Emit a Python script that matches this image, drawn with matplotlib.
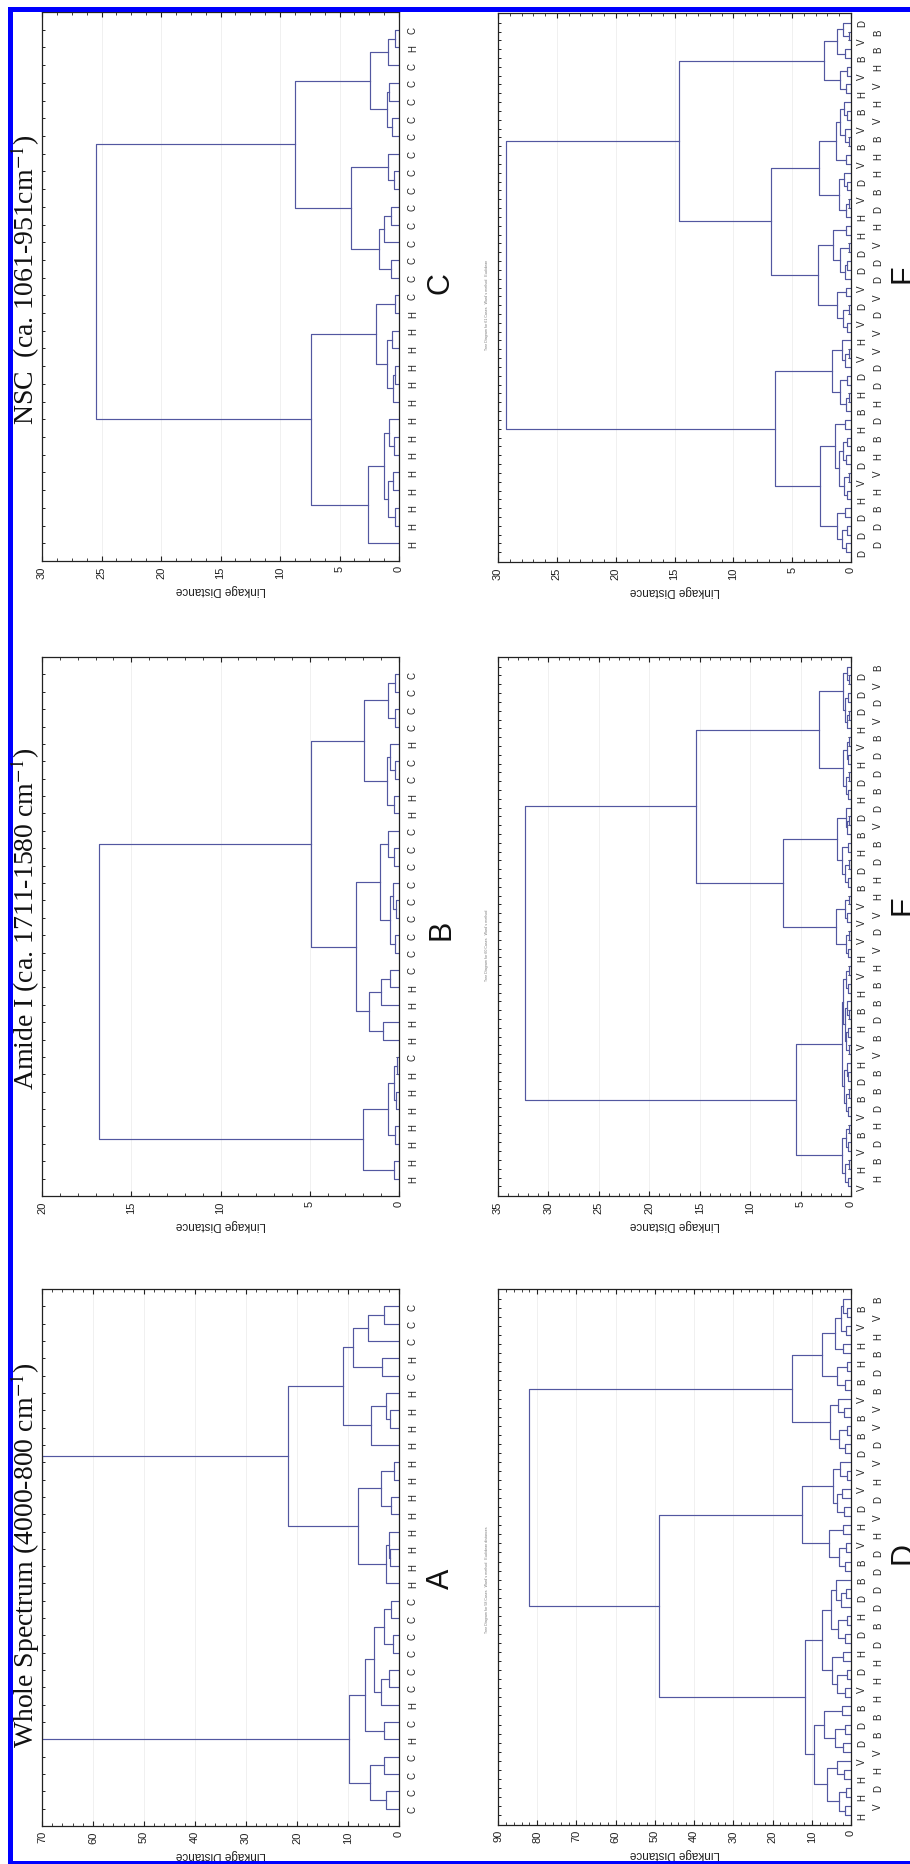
import numpy as np
import matplotlib
matplotlib.use("Agg")
import matplotlib.pyplot as plt
from matplotlib.patches import Rectangle
from matplotlib.ticker import MultipleLocator, AutoMinorLocator

plt.rcParams["font.family"] = ["Liberation Sans", "DejaVu Sans"]
plt.rcParams["mathtext.fontset"] = "stix"

W, H, DPI = 910, 1865, 100
LINE = "#5257a0"
INK = "#222222"

################################
# data
# leaves are listed left to right as in the original plot
# (bottom to top in this turned page); JOINS_x[i] is the linkage
# distance at which leaf i and leaf i+1 end up in the same cluster
################################

LABELS_A = "CCCCHCHCCCCCCHHHHHHHHHHHHCHCCC"
JOINS_A = [2.5, 5.7, 3.0, 9.8, 3.0, 6.7, 3.5, 2.0, 5.0, 1.2, 3.0, 1.5, 70.0,
           2.5, 1.8, 2.0, 8.0, 1.5, 3.5, 1.0, 21.7, 5.4, 1.8, 2.5, 10.9,
           3.3, 9.0, 6.0, 3.0]

LABELS_B = "HHHHHHHCHHHHCCCCCCCCCHHCCHCCCC"
JOINS_B = [0.3, 2.0, 0.2, 0.6, 0.15, 0.3, 0.1, 16.8, 0.9, 1.7, 1.0, 0.5, 2.4,
           0.25, 0.5, 0.15, 0.35, 1.05, 0.3, 0.6, 4.95, 0.3, 0.7, 0.2, 0.5,
           1.95, 0.25, 0.6, 0.2]

LABELS_C = "HHHHHHHHHHHHHHCCCCCCCCCCCCCCHC"
JOINS_C = [2.6, 0.3, 0.9, 0.5, 1.3, 0.4, 0.8, 7.4, 0.5, 0.3, 1.0, 0.6, 1.9,
           0.3, 25.5, 0.7, 1.7, 1.3, 0.7, 4.0, 0.4, 0.9, 8.7, 0.6, 1.0, 0.8,
           2.4, 0.9, 0.3]

# D, E, F: labels alternate between two rows
LABELS_D_ROW1 = "HHHVDDBVDHDHDBBVHDVVDBBVBHHVB"
LABELS_D_ROW2 = "VDHVBBHHHDBDDDDHVDHVDVVBDBHVB"
JOINS_D = [1.5, 3.0, 1.2, 6.1, 1.8, 3.5, 9.5, 2.0, 4.0, 1.5, 6.8, 2.2,
           11.7,
           1.5, 3.5, 1.0, 4.8, 2.0, 7.4, 1.5, 3.2, 1.0, 5.0, 2.5, 1.2, 3.8,
           49.0,
           1.5, 3.0, 1.2, 5.5, 2.0, 12.5, 1.8, 3.5, 2.2, 4.5, 1.0, 2.8,
           82.0,
           1.5, 3.0, 1.0, 5.3, 1.8, 3.2,
           15.1,
           1.5, 3.5, 1.0, 7.4, 2.0, 4.0, 1.2, 2.5, 1.0, 2.0]

LABELS_E_ROW1 = "VHVBVBDHVHBHVHVVVBDHBDHDHVHDDD"
LABELS_E_ROW2 = "HBDHDBBVBDBBHVDVHHDBVDBDDBVDVB"
JOINS_E = [0.3, 0.6, 0.2, 0.9, 0.3, 0.5, 0.2, 5.5,
           0.3, 0.5, 0.2, 0.7, 0.3, 0.4, 0.9, 0.2, 0.5, 0.3, 0.6, 0.2, 0.4,
           0.8, 0.3, 0.5, 0.2,
           32.3,
           0.3, 0.5, 0.2, 1.5, 0.4, 0.6, 0.2, 6.7,
           0.3, 0.6, 0.2, 0.9, 0.3, 1.4, 0.4, 0.2, 0.5,
           15.4,
           0.3, 0.5, 0.2, 0.8, 0.3, 0.4, 0.2, 3.2,
           0.4, 0.2, 0.6, 0.3, 0.8, 0.2, 0.4]

LABELS_F_ROW1 = "DDDHVDBHBHDVHVDVDDHHVDVBVBHVBVD"
LABELS_F_ROW2 = "DDBHVHBDHDDVVDVDDVHDBHHBVHVHBB"
JOINS_F = [0.4, 0.8, 0.3, 1.2, 0.5, 2.6,
           0.3, 0.6, 0.2, 1.0, 0.4, 0.7, 0.3, 1.4, 0.5,
           6.5,
           0.4, 0.2, 0.9, 0.3, 1.6, 0.5, 0.2, 0.8,
           29.3,
           0.3, 0.7, 0.2, 1.2, 0.4, 2.8, 0.5, 0.3, 0.9, 0.2, 1.5, 0.4,
           6.8,
           0.4, 0.2, 1.0, 0.3, 0.6, 2.75, 0.4, 1.3, 0.2, 0.5, 0.9, 0.3, 0.6,
           14.6,
           0.4, 0.9, 0.3, 2.3, 0.5, 1.2, 0.2, 0.7]

TITLES = ["Whole Spectrum (4000-800 cm$^{-1}$)",
          "Amide I (ca. 1711-1580 cm$^{-1}$)",
          "NSC  (ca. 1061-951cm$^{-1}$)"]


################################
# helpers
################################

def interleave(row1, row2):
    out = []
    for i in range(len(row1) + len(row2)):
        out.append(row1[i // 2] if i % 2 == 0 else row2[i // 2])
    return out


def tree(joins, lo, hi, segs):
    # split the leaf range at its highest join, like a dendrogram does
    if lo == hi:
        return lo + 1, 0.0
    k = lo + int(np.argmax(joins[lo:hi]))
    lp, lh = tree(joins, lo, k, segs)
    rp, rh = tree(joins, k + 1, hi, segs)
    h = joins[k]
    segs.append(([lh, h, h, rh], [lp, lp, rp, rp]))
    return (lp + rp) / 2.0, h


def draw_panel(fig, box, dmax, major, nminor, labels, joins, two_rows=False):
    x0, y0, x1, y1 = box
    ax = fig.add_axes([x0 / W, 1 - y1 / H, (x1 - x0) / W, (y1 - y0) / H])
    n = len(labels)
    segs = []
    tree(joins, 0, n - 1, segs)
    for xs, ys in segs:
        ax.plot(xs, ys, color=LINE, lw=0.85)
    ax.set_xlim(dmax, 0)
    m = 1.1 if two_rows else 1.0
    ax.set_ylim(1 - m, n + m)

    ax.xaxis.set_major_locator(MultipleLocator(major))
    ax.xaxis.set_minor_locator(AutoMinorLocator(nminor))
    ax.set_yticks(np.arange(1, n + 1))
    ax.set_yticklabels([])
    ax.tick_params(axis="x", which="both", direction="in", top=True, bottom=True,
                   labelrotation=90, labelsize=8, pad=3, colors=INK)
    ax.tick_params(axis="x", which="major", length=3.5, width=0.8)
    ax.tick_params(axis="x", which="minor", length=2, width=0.6)
    ax.tick_params(axis="y", direction="in", left=True, right=True,
                   length=2.5, width=0.7, colors=INK)
    ax.grid(axis="x", which="major", color="#eeeeee", lw=0.6)
    ax.set_axisbelow(True)
    for s in ax.spines.values():
        s.set_linewidth(0.9)
        s.set_color(INK)
    ax.set_xlabel("Linkage Distance", rotation=180, fontsize=8.5, labelpad=4, color=INK)

    for i, lab in enumerate(labels):
        if two_rows:
            dx = 8 if i % 2 == 0 else 19.5
        else:
            dx = 10
        ax.annotate(lab, xy=(1, i + 1), xycoords=("axes fraction", "data"),
                    xytext=(dx, 0), textcoords="offset points", rotation=90,
                    ha="center", va="center", fontsize=7, color=INK)
    return ax


################################
# figure
################################

fig = plt.figure(figsize=(W / DPI, H / DPI), dpi=DPI)

draw_panel(fig, (42, 1290, 399, 1827), 70, 10, 5, list(LABELS_A), JOINS_A)
draw_panel(fig, (42, 658, 399, 1197), 20, 5, 5, list(LABELS_B), JOINS_B)
draw_panel(fig, (42, 13, 399, 562), 30, 5, 4, list(LABELS_C), JOINS_C)
draw_panel(fig, (498, 1290, 851, 1826), 90, 10, 5,
           interleave(LABELS_D_ROW1, LABELS_D_ROW2), JOINS_D, two_rows=True)
draw_panel(fig, (498, 658, 851, 1197), 35, 5, 5,
           interleave(LABELS_E_ROW1, LABELS_E_ROW2), JOINS_E, two_rows=True)
draw_panel(fig, (498, 14, 851, 563), 30, 5, 5,
           interleave(LABELS_F_ROW1, LABELS_F_ROW2), JOINS_F, two_rows=True)

# panel titles, turned with the page
for title, yc in zip(TITLES, [1555, 919, 280]):
    fig.text(25 / W, 1 - yc / H, title, rotation=90, ha="center", va="center",
             fontsize=20, family="Liberation Serif", color="#111111")

# panel letters (D, E, F run off the right edge of the page)
for letter, yc in zip("ABC", [1579, 930, 283]):
    fig.text(441 / W, 1 - yc / H, letter, rotation=90, ha="center", va="center",
             fontsize=22, color="#111111")
for letter, yc in zip("DEF", [1553, 905, 274]):
    fig.text(903 / W, 1 - yc / H, letter, rotation=90, ha="center", va="center",
             fontsize=22, color="#111111")

# tiny header text of the right column plots
for txt, yc in zip(["Tree Diagram for 58 Cases   Ward`s method   Euclidean distances",
                    "Tree Diagram for 60 Cases   Ward`s method",
                    "Tree Diagram for 61 Cases   Ward`s method   Euclidean"],
                   [1580, 945, 305]):
    fig.text(487 / W, 1 - yc / H, txt, rotation=90, ha="center", va="center",
             fontsize=2.6, color="#777777")

# blue page border
blue = "#0000ff"
fig.add_artist(Rectangle((8 / W, 0), 5 / W, 1 - 8 / H, transform=fig.transFigure,
                         color=blue, lw=0))
fig.add_artist(Rectangle((8 / W, 1 - 13 / H), 1 - 8 / W, 5 / H, transform=fig.transFigure,
                         color=blue, lw=0))
fig.add_artist(Rectangle((8 / W, 0), 1 - 8 / W, 3 / H, transform=fig.transFigure,
                         color=blue, lw=0))

fig.savefig("out.png", dpi=DPI)
